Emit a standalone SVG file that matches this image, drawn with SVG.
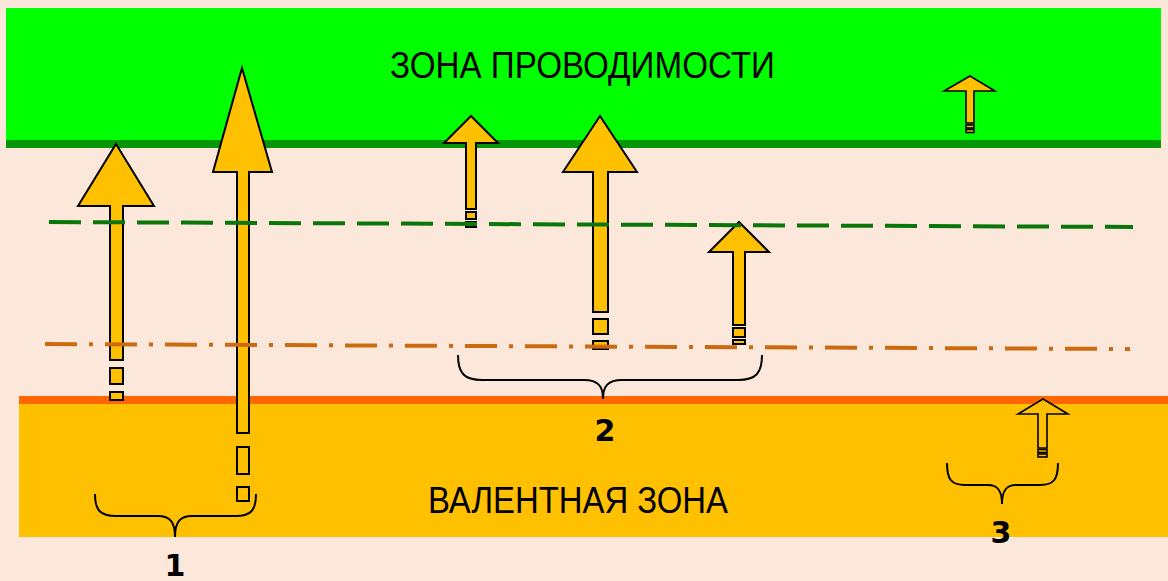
<svg xmlns="http://www.w3.org/2000/svg" width="1168" height="581" viewBox="0 0 1168 581">
  <style>
    .arrow { fill: #FFC000; stroke: #000; stroke-width: 2; stroke-linejoin: miter; }
    .arrow-s { fill: #FFC000; stroke: #000; stroke-width: 1.6; }
    .brace { fill: none; stroke: #000; stroke-width: 2; }
    .zone { font-family: "Liberation Sans", Arial, sans-serif; font-size: 36px; fill: #000; }
    .num { font-family: "DejaVu Sans", Verdana, sans-serif; font-weight: bold; font-size: 30px; fill: #000; text-anchor: middle; }
  </style>

  <!-- background -->
  <rect x="0" y="0" width="1168" height="581" fill="#FCE8DB"/>

  <!-- conduction band -->
  <g id="conduction-band">
    <rect x="6" y="8" width="1155" height="140" fill="#00FF00"/>
    <rect x="6" y="140" width="1155" height="8" fill="#079607"/>
    <text class="zone" x="390" y="78" textLength="385" lengthAdjust="spacingAndGlyphs">ЗОНА ПРОВОДИМОСТИ</text>
  </g>

  <!-- valence band -->
  <g id="valence-band">
    <rect x="19" y="396" width="1149" height="141" fill="#FFC000"/>
    <rect x="19" y="396" width="1149" height="8" fill="#FF6600"/>
    <text class="zone" x="428" y="513" textLength="300" lengthAdjust="spacingAndGlyphs">ВАЛЕНТНАЯ ЗОНА</text>
  </g>

  <!-- transitions -->
  <g id="arrow-1a">
    <polygon class="arrow" points="116,144 154,206 123,206 123,360 110,360 110,206 78,206"/>
    <rect class="arrow" x="110" y="368" width="13" height="16"/>
    <rect class="arrow" x="110" y="392" width="13" height="8"/>
  </g>
  <g id="arrow-1b">
    <polygon class="arrow" points="242,68 272,172 249,172 249,433 237,433 237,172 213,172"/>
    <rect class="arrow" x="237" y="447" width="12" height="27"/>
    <rect class="arrow" x="237" y="487" width="12" height="14"/>
  </g>
  <g id="arrow-2a">
    <polygon class="arrow" points="471,116 498,143 476,143 476,209 466,209 466,143 444,143"/>
    <rect class="arrow" x="466" y="212" width="10" height="7"/>
    <rect class="arrow" x="466" y="222" width="10" height="5"/>
  </g>
  <g id="arrow-2b">
    <polygon class="arrow" points="600,116 637,172 608,172 608,312 593,312 593,172 563,172"/>
    <rect class="arrow" x="593" y="319" width="15" height="15"/>
    <rect class="arrow" x="593" y="341" width="15" height="8"/>
  </g>
  <g id="arrow-2c">
    <polygon class="arrow" points="739,222 769,252 745,252 745,325 733,325 733,252 709,252"/>
    <rect class="arrow" x="733" y="328" width="12" height="9"/>
    <rect class="arrow" x="733" y="340" width="12" height="4"/>
  </g>
  <g id="arrow-3a">
    <polygon class="arrow-s" points="970,76 995,91 974,91 974,123 966,123 966,91 944,91"/>
    <rect class="arrow-s" x="966" y="125" width="8" height="3"/>
    <rect class="arrow-s" x="966" y="129.5" width="8" height="3" fill="#000"/>
  </g>
  <g id="arrow-3b">
    <polygon class="arrow-s" points="1043,399 1068,414 1047,414 1047,448 1038,448 1038,414 1018,414"/>
    <rect class="arrow-s" x="1038" y="449.5" width="9" height="3"/>
    <rect class="arrow-s" x="1038" y="454" width="9" height="3" fill="#000"/>
  </g>

  <!-- impurity levels -->
  <g id="levels">
    <line x1="49" y1="222" x2="1133" y2="227" stroke="#0A760A" stroke-width="4" stroke-dasharray="32 12"/>
    <line x1="45" y1="344" x2="1130" y2="349" stroke="#CC6A10" stroke-width="4" stroke-dasharray="32 12 4 12"/>
  </g>

  <!-- group braces -->
  <g id="braces">
    <path class="brace" d="M95,494 C95,510 100,516 116,516 L158,516 C170,516 175,522 175,537 C175,522 180,516 192,516 L236,516 C251,516 256,510 256,494"/>
    <path class="brace" d="M458,355 C458,373 464,380 482,380 L584,380 C598,380 603,386 603,399 C603,386 608,380 622,380 L738,380 C756,380 762,373 762,355"/>
    <path class="brace" d="M947,463 C947,479 951,485 965,485 L988,485 C998,485 1002,491 1002,504 C1002,491 1006,485 1016,485 L1040,485 C1054,485 1058,479 1058,463"/>
  </g>

  <g id="labels">
    <text class="num" x="175" y="576">1</text>
    <text class="num" x="605" y="441">2</text>
    <text class="num" x="1001" y="543">3</text>
  </g>
</svg>
